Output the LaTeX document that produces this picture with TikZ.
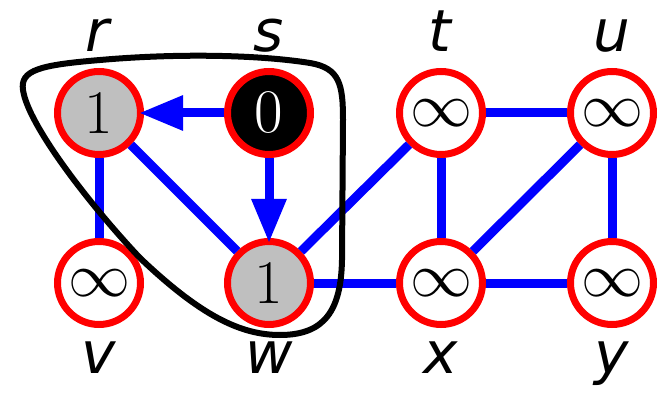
\RequirePackage{fix-cm}
\documentclass[tikz,border=0pt]{standalone}
\usepackage{fontspec}
\newfontfamily\lblfont{DejaVu Sans Oblique}
\usetikzlibrary{arrows.meta}
\begin{document}
\begin{tikzpicture}[x=1pt,y=-1pt,
  vtx/.style={circle,draw=red,line width=7pt,minimum size=83pt,inner sep=0pt,fill=white,
    font=\fontsize{62}{62}\selectfont},
  edge/.style={blue,line width=9pt},
  arr/.style={edge,-{Triangle[length=44pt,width=33pt]},shorten >=-5pt},
  lbl/.style={anchor=base,inner sep=0pt,font=\lblfont\fontsize{58}{58}\selectfont},
  hull/.style={black,line width=6pt}]
\useasboundingbox (0,0) rectangle (662,393);
% vertices
\node[vtx,fill=gray!50] (r) at (99,113) {1};
\node[vtx,fill=black,text=white] (s) at (269,113) {0};
\node[vtx] (t) at (441,113) {$\infty$};
\node[vtx] (u) at (612,113) {$\infty$};
\node[vtx] (v) at (99,283) {$\infty$};
\node[vtx,fill=gray!50] (w) at (269,283) {1};
\node[vtx] (x) at (441,283) {$\infty$};
\node[vtx] (y) at (612,283) {$\infty$};
% labels
\node[lbl] (lr) at (97,52) {r};
\node[lbl] (ls) at (269,52) {s};
\node[lbl] (lt) at (440,52) {t};
\node[lbl] (lu) at (612,52) {u};
\node[lbl] (lv) at (99,373) {v};
\node[lbl] (lw) at (269,373) {w};
\node[lbl] (lx) at (441,373) {x};
\node[lbl] (ly) at (612,373) {y};
% edges
\draw[edge] (r) -- (v);
\draw[edge] (r) -- (w);
\draw[edge] (w) -- (t);
\draw[edge] (w) -- (x);
\draw[edge] (t) -- (x);
\draw[edge] (t) -- (u);
\draw[edge] (u) -- (x);
\draw[edge] (u) -- (y);
\draw[edge] (x) -- (y);
\draw[arr] (s) -- (r);
\draw[arr] (s) -- (w);
% hull
\draw[hull] (23,90) .. controls (20,70) and (40,65) .. (100,60)
  .. controls (180,53) and (260,55) .. (310,63)
  .. controls (340,68) and (343,85) .. (343,120)
  -- (342,260)
  .. controls (341,310) and (325,335) .. (280,335)
  .. controls (240,335) and (200,315) .. (140,258)
  .. controls (90,205) and (28,125) .. cycle;
\end{tikzpicture}
\end{document}
